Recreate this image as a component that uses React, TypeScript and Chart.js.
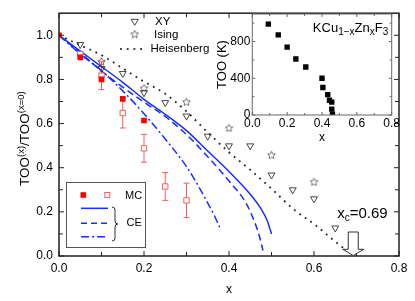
import React, { useEffect, useRef } from 'react';
import { Chart, registerables } from 'chart.js';

Chart.register(...registerables);

const FONT = "'Liberation Sans', Arial, Helvetica, sans-serif";

// ---------- main axes ----------
const xTickValues = [0, 0.2, 0.4, 0.6, 0.8];
const xMinorValues = [0.1, 0.3, 0.5, 0.7];
const yTickValues = [0, 0.2, 0.4, 0.6, 0.8, 1.0];
const yMinorValues = [0.1, 0.3, 0.5, 0.7, 0.9];

// ---------- MC (filled squares) ----------
const mcFilledX = [0, 0.05, 0.1, 0.15, 0.2];
const mcFilledY = [1.0, 0.9, 0.8, 0.712, 0.614];

// ---------- MC (open squares with error bars) ----------
const mcOpenX = [0.05, 0.1, 0.15, 0.2, 0.25, 0.3];
const mcOpenY = [0.915, 0.817, 0.648, 0.488, 0.315, 0.252];
const mcOpenErr = [0.012, 0.063, 0.068, 0.063, 0.063, 0.078];

// ---------- XY (open down triangles) ----------
const xyX = [0.05, 0.1, 0.15, 0.2, 0.25, 0.3, 0.35, 0.4, 0.45, 0.5, 0.55, 0.6, 0.65];
const xyY = [0.958, 0.849, 0.827, 0.74, 0.695, 0.634, 0.543, 0.499, 0.499, 0.367, 0.3, 0.259, 0.127];

// ---------- Ising (stars) ----------
const isingX = [0.1, 0.2, 0.3, 0.4, 0.5, 0.6];
const isingY = [0.882, 0.761, 0.698, 0.58, 0.458, 0.336];

// ---------- Heisenberg (dotted) ----------
const heisX = [0, 0.05, 0.1, 0.15, 0.2, 0.25, 0.3, 0.35, 0.4, 0.45, 0.5, 0.55, 0.6, 0.65, 0.68];
const heisY = [1.0, 0.955, 0.91, 0.85, 0.79, 0.735, 0.655, 0.56, 0.47, 0.39, 0.305, 0.215, 0.145, 0.065, 0.02];

// ---------- CE curves ----------
const ceSolidX = [0, 0.05, 0.1, 0.15, 0.2, 0.25, 0.3, 0.35, 0.4, 0.45, 0.475, 0.49, 0.5];
const ceSolidY = [1.0, 0.928, 0.858, 0.787, 0.71, 0.642, 0.568, 0.476, 0.383, 0.28, 0.215, 0.16, 0.1];
const ceDashX = [0, 0.05, 0.1, 0.15, 0.2, 0.25, 0.3, 0.35, 0.4, 0.44, 0.46, 0.47, 0.48];
const ceDashY = [1.0, 0.92, 0.838, 0.765, 0.697, 0.632, 0.55, 0.45, 0.34, 0.24, 0.155, 0.1, 0.025];
const ceDashDotX = [0, 0.05, 0.1, 0.15, 0.2, 0.25, 0.3, 0.33, 0.35, 0.365, 0.378];
const ceDashDotY = [1.0, 0.915, 0.84, 0.748, 0.645, 0.53, 0.405, 0.31, 0.24, 0.185, 0.13];

// critical concentration
const xcValue = 0.69;
const xcLabel = '=0.69';

// ---------- inset: KCu1-xZnxF3 ----------
const insetX = [0.092, 0.149, 0.2, 0.25, 0.307, 0.4, 0.405, 0.433, 0.443, 0.456, 0.456, 0.46];
const insetT = [990, 872, 739, 610, 523, 400, 300, 222, 160, 140, 64, 10];
const insetXTicks = [0, 0.2, 0.4, 0.6, 0.8];
const insetXMinor = [0.1, 0.3, 0.5, 0.7];
const insetYTicks = [0, 400, 800];
const insetYMinor = [200, 600, 1000];

const RED = 'rgb(255,0,0)';
const PINK = 'rgb(240,95,95)';
const BLUE = 'rgb(25,45,255)';
const GRAY = '#333';

const pts = (xs: number[], ys: number[]) => xs.map((x, i) => ({ x, y: ys[i] }));

type Seg = { t: string; size: number; dy?: number };
function richWidth(ctx: CanvasRenderingContext2D, segs: Seg[]) {
  let w = 0;
  for (const s of segs) {
    ctx.font = `${s.size}px ${FONT}`;
    w += ctx.measureText(s.t).width;
  }
  return w;
}
function drawRich(ctx: CanvasRenderingContext2D, segs: Seg[], x: number, y: number) {
  let cx = x;
  ctx.textAlign = 'left';
  ctx.textBaseline = 'alphabetic';
  for (const s of segs) {
    ctx.font = `${s.size}px ${FONT}`;
    ctx.fillText(s.t, cx, y + (s.dy || 0));
    cx += ctx.measureText(s.t).width;
  }
}

function makeStar(size: number, color: string) {
  const c = document.createElement('canvas');
  c.width = size;
  c.height = size;
  const g = c.getContext('2d')!;
  const cx = size / 2, cy = size / 2 + 0.4;
  const R = size / 2 - 0.5, r = R * 0.5;
  g.beginPath();
  for (let i = 0; i < 10; i++) {
    const a = -Math.PI / 2 + (i * Math.PI) / 5;
    const rad = i % 2 === 0 ? R : r;
    g.lineTo(cx + rad * Math.cos(a), cy + rad * Math.sin(a));
  }
  g.closePath();
  g.strokeStyle = color;
  g.lineWidth = 0.75;
  g.stroke();
  return c;
}

function drawInsideTicks(ctx: CanvasRenderingContext2D, chart: any, xs: number[], ys: number[], len: number) {
  const { left, right, top, bottom } = chart.chartArea;
  const sx = chart.scales.x, sy = chart.scales.y;
  ctx.beginPath();
  for (const v of xs) {
    const p = sx.getPixelForValue(v);
    ctx.moveTo(p, bottom); ctx.lineTo(p, bottom - len);
    ctx.moveTo(p, top); ctx.lineTo(p, top + len);
  }
  for (const v of ys) {
    const p = sy.getPixelForValue(v);
    ctx.moveTo(left, p); ctx.lineTo(left + len, p);
    ctx.moveTo(right, p); ctx.lineTo(right - len, p);
  }
  ctx.stroke();
}

export default function App() {
  const mainRef = useRef<HTMLCanvasElement>(null);
  const insetRef = useRef<HTMLCanvasElement>(null);

  useEffect(() => {
    document.body.style.margin = '0';
    Chart.defaults.font.family = FONT;
    const star = makeStar(9, '#444');

    const mainPlugin = {
      id: 'mainDecor',
      beforeDatasetsDraw(chart: any) {
        const ctx = chart.ctx as CanvasRenderingContext2D;
        const sx = chart.scales.x, sy = chart.scales.y;
        ctx.save();
        ctx.strokeStyle = PINK;
        ctx.lineWidth = 1;
        mcOpenX.forEach((xv, i) => {
          const px = sx.getPixelForValue(xv);
          const y1 = sy.getPixelForValue(mcOpenY[i] - mcOpenErr[i]);
          const y2 = sy.getPixelForValue(mcOpenY[i] + mcOpenErr[i]);
          ctx.beginPath();
          ctx.moveTo(px, y1); ctx.lineTo(px, y2);
          ctx.moveTo(px - 3, y1); ctx.lineTo(px + 3, y1);
          ctx.moveTo(px - 3, y2); ctx.lineTo(px + 3, y2);
          ctx.stroke();
        });
        ctx.restore();
      },
      afterDraw(chart: any) {
        const ctx = chart.ctx as CanvasRenderingContext2D;
        const { left, right, top, bottom } = chart.chartArea;
        const sx = chart.scales.x, sy = chart.scales.y;
        ctx.save();
        // frame
        ctx.strokeStyle = '#222';
        ctx.lineWidth = 1.5;
        ctx.strokeRect(left, top, right - left, bottom - top);
        ctx.lineWidth = 1;
        drawInsideTicks(ctx, chart, xTickValues, yTickValues, 5);
        drawInsideTicks(ctx, chart, xMinorValues, yMinorValues, 4);

        // axis titles
        ctx.fillStyle = '#000';
        ctx.font = `12px ${FONT}`;
        ctx.textAlign = 'center';
        ctx.textBaseline = 'middle';
        ctx.fillText('x', (left + right) / 2, 290);

        const ySegs: Seg[] = [
          { t: 'TOO', size: 13.5 },
          { t: '(x)', size: 9.5, dy: -5 },
          { t: '/', size: 13.5 },
          { t: 'TOO', size: 13.5 },
          { t: '(x=0)', size: 9.5, dy: -5 },
        ];
        ctx.save();
        ctx.translate(28.5, (top + bottom) / 2 + 4);
        ctx.rotate(-Math.PI / 2);
        const yw = richWidth(ctx, ySegs);
        drawRich(ctx, ySegs, -yw / 2, 0);
        ctx.restore();

        // top legend
        ctx.strokeStyle = GRAY;
        ctx.lineWidth = 0.9;
        const lx = 134.7;
        ctx.beginPath();
        ctx.moveTo(lx - 3.6, 19.3); ctx.lineTo(lx + 3.6, 19.3); ctx.lineTo(lx, 25.3); ctx.closePath();
        ctx.stroke();
        ctx.drawImage(star, lx - 4.5, 34 - 4.5);
        ctx.fillStyle = '#222';
        for (let i = 0; i < 4; i++) ctx.fillRect(121 + i * 6.7 - 0.9, 49 - 0.9, 1.8, 1.8);
        ctx.fillStyle = '#000';
        ctx.font = `11.5px ${FONT}`;
        ctx.textAlign = 'left';
        ctx.textBaseline = 'middle';
        ctx.fillText('XY', 155, 22);
        ctx.fillText('Ising', 154, 35);
        ctx.fillText('Heisenberg', 150.5, 49);

        // bottom-left legend box
        ctx.strokeStyle = '#555';
        ctx.lineWidth = 1;
        ctx.strokeRect(66.5, 182.5, 79, 65);
        ctx.fillStyle = RED;
        ctx.fillRect(83.3 - 2.8, 195 - 2.8, 5.6, 5.6);
        ctx.strokeStyle = PINK;
        ctx.strokeRect(107.3 - 2.5, 195 - 2.5, 5, 5);
        ctx.strokeStyle = BLUE;
        ctx.lineWidth = 1.5;
        const legLine = (y: number, dash: number[]) => {
          ctx.setLineDash(dash);
          ctx.beginPath(); ctx.moveTo(81, y); ctx.lineTo(108, y); ctx.stroke();
        };
        legLine(208.3, []);
        legLine(223.3, [6, 4]);
        legLine(236.7, [8, 3, 2, 3]);
        ctx.setLineDash([]);
        // brace
        ctx.strokeStyle = GRAY;
        ctx.lineWidth = 1;
        const bx = 112, by0 = 207, by1 = 241, bym = (by0 + by1) / 2;
        ctx.beginPath();
        ctx.moveTo(bx, by0);
        ctx.quadraticCurveTo(bx + 3, by0, bx + 3, by0 + 3);
        ctx.lineTo(bx + 3, bym - 3);
        ctx.quadraticCurveTo(bx + 3, bym, bx + 6, bym);
        ctx.quadraticCurveTo(bx + 3, bym, bx + 3, bym + 3);
        ctx.lineTo(bx + 3, by1 - 3);
        ctx.quadraticCurveTo(bx + 3, by1, bx, by1);
        ctx.stroke();
        ctx.fillStyle = '#000';
        ctx.font = `11px ${FONT}`;
        ctx.textAlign = 'left';
        ctx.textBaseline = 'middle';
        ctx.fillText('MC', 125, 195.5);
        ctx.fillText('CE', 126.5, 223);

        // critical arrow
        const ax = sx.getPixelForValue(xcValue) + 1;
        const ay = sy.getPixelForValue(0);
        ctx.beginPath();
        ctx.moveTo(ax - 5, 232);
        ctx.lineTo(ax + 5, 232);
        ctx.lineTo(ax + 5, 249.3);
        ctx.lineTo(ax + 10.5, 249.3);
        ctx.lineTo(ax, ay - 0.5);
        ctx.lineTo(ax - 10.5, 249.3);
        ctx.lineTo(ax - 5, 249.3);
        ctx.closePath();
        ctx.fillStyle = '#fff';
        ctx.fill();
        ctx.strokeStyle = '#333';
        ctx.lineWidth = 1;
        ctx.stroke();
        ctx.fillStyle = '#000';
        drawRich(ctx, [
          { t: 'x', size: 15 },
          { t: 'c', size: 10, dy: 3 },
          { t: xcLabel, size: 15 },
        ], ax - 16, 217.5);
        ctx.restore();
      },
    };

    const main = new Chart(mainRef.current!, {
      type: 'scatter',
      data: {
        datasets: [
          {
            data: pts(mcFilledX, mcFilledY),
            pointStyle: 'rect', pointRadius: 4, backgroundColor: RED, borderColor: RED, borderWidth: 0,
          },
          {
            data: pts(mcOpenX, mcOpenY),
            pointStyle: 'rect', pointRadius: 3.8, backgroundColor: '#fff', borderColor: PINK, borderWidth: 1,
          },
          {
            data: pts(xyX, xyY),
            pointStyle: 'triangle', pointRotation: 180, pointRadius: 4, backgroundColor: 'rgba(0,0,0,0)', borderColor: GRAY, borderWidth: 0.9,
          },
          {
            data: pts(isingX, isingY),
            pointStyle: star as any, pointRadius: 4.5,
          },
          {
            data: pts(ceSolidX, ceSolidY), showLine: true, pointRadius: 0,
            borderColor: BLUE, borderWidth: 1.5, cubicInterpolationMode: 'monotone',
          },
          {
            data: pts(ceDashX, ceDashY), showLine: true, pointRadius: 0,
            borderColor: BLUE, borderWidth: 1.5, borderDash: [7, 4], cubicInterpolationMode: 'monotone',
          },
          {
            data: pts(ceDashDotX, ceDashDotY), showLine: true, pointRadius: 0,
            borderColor: BLUE, borderWidth: 1.5, borderDash: [8, 3, 2, 3], cubicInterpolationMode: 'monotone',
          },
          {
            data: pts(heisX, heisY), showLine: true, pointRadius: 0,
            borderColor: '#222', borderWidth: 1.8, borderDash: [1.8, 4.9], cubicInterpolationMode: 'monotone',
          },
        ] as any,
      },
      options: {
        responsive: false,
        animation: false,
        devicePixelRatio: 1,
        events: [],
        layout: { padding: { left: 0, right: 16, top: 6, bottom: 0 } },
        plugins: { legend: { display: false }, tooltip: { enabled: false } },
        scales: {
          x: {
            type: 'linear', min: 0, max: 0.8,
            afterFit: (s: any) => { s.height = 45; },
            afterBuildTicks: (s: any) => { s.ticks = xTickValues.map((v) => ({ value: v })); },
            ticks: {
              callback: (v: any) => Number(v).toFixed(1),
              font: { size: 12, family: FONT }, color: '#000', padding: 5, maxRotation: 0, autoSkip: false,
            },
            grid: { display: false, drawTicks: false, tickLength: 0 },
            border: { display: false },
          },
          y: {
            type: 'linear', min: 0, max: 1.1,
            afterFit: (s: any) => { s.width = 59; },
            afterBuildTicks: (s: any) => { s.ticks = yTickValues.map((v) => ({ value: v })); },
            ticks: {
              callback: (v: any) => Number(v).toFixed(1),
              font: { size: 12, family: FONT }, color: '#000', padding: 6, autoSkip: false,
            },
            grid: { display: false, drawTicks: false, tickLength: 0 },
            border: { display: false },
          },
        },
      } as any,
      plugins: [mainPlugin],
    });

    const insetPlugin = {
      id: 'insetDecor',
      beforeDraw(chart: any) {
        const ctx = chart.ctx as CanvasRenderingContext2D;
        const { left, right, top, bottom } = chart.chartArea;
        ctx.save();
        ctx.fillStyle = '#fff';
        ctx.fillRect(left, top, right - left, bottom - top);
        ctx.restore();
      },
      afterDraw(chart: any) {
        const ctx = chart.ctx as CanvasRenderingContext2D;
        const { left, right, top, bottom } = chart.chartArea;
        ctx.save();
        ctx.strokeStyle = '#666';
        ctx.lineWidth = 1;
        ctx.strokeRect(left, top, right - left, bottom - top);
        drawInsideTicks(ctx, chart, insetXTicks, insetYTicks, 3);
        drawInsideTicks(ctx, chart, insetXMinor, insetYMinor, 2);
        ctx.fillStyle = '#000';
        // compound label
        const segs: Seg[] = [
          { t: 'KCu', size: 13 },
          { t: '1\u2212x', size: 10, dy: 3 },
          { t: 'Zn', size: 13 },
          { t: 'x', size: 10, dy: 3 },
          { t: 'F', size: 13 },
          { t: '3', size: 10, dy: 3 },
        ];
        const w = richWidth(ctx, segs);
        drawRich(ctx, segs, right - 3.5 - w, top + 18);
        // axis titles
        ctx.font = `12px ${FONT}`;
        ctx.textAlign = 'center';
        ctx.textBaseline = 'middle';
        ctx.fillText('x', (left + right) / 2, 138);
        ctx.save();
        ctx.translate(31, (top + bottom) / 2);
        ctx.rotate(-Math.PI / 2);
        ctx.font = `13px ${FONT}`;
        ctx.textBaseline = 'alphabetic';
        ctx.fillText('TOO (K)', 0, 0);
        ctx.restore();
        ctx.restore();
      },
    };

    const inset = new Chart(insetRef.current!, {
      type: 'scatter',
      data: {
        datasets: [
          {
            data: pts(insetX, insetT),
            pointStyle: 'rect', pointRadius: 3.8, backgroundColor: '#000', borderColor: '#000', borderWidth: 0,
          },
        ] as any,
      },
      options: {
        responsive: false,
        animation: false,
        devicePixelRatio: 1,
        events: [],
        layout: { padding: { left: 0, right: 13.3, top: 14, bottom: 0 } },
        plugins: { legend: { display: false }, tooltip: { enabled: false } },
        scales: {
          x: {
            type: 'linear', min: 0, max: 0.8,
            afterFit: (s: any) => { s.height = 35; },
            afterBuildTicks: (s: any) => { s.ticks = insetXTicks.map((v) => ({ value: v })); },
            ticks: {
              callback: (v: any) => Number(v).toFixed(1),
              font: { size: 12, family: FONT }, color: '#000', padding: 1, maxRotation: 0, autoSkip: false,
            },
            grid: { display: false, drawTicks: false, tickLength: 0 },
            border: { display: false },
          },
          y: {
            type: 'linear', min: 0, max: 1100,
            afterFit: (s: any) => { s.width = 57.3; },
            afterBuildTicks: (s: any) => { s.ticks = insetYTicks.map((v) => ({ value: v })); },
            ticks: {
              callback: (v: any) => String(v),
              font: { size: 12, family: FONT }, color: '#000', padding: 2, autoSkip: false,
            },
            grid: { display: false, drawTicks: false, tickLength: 0 },
            border: { display: false },
          },
        },
      } as any,
      plugins: [insetPlugin],
    });

    return () => {
      main.destroy();
      inset.destroy();
    };
  }, []);

  return (
    <div style={{ position: 'relative', width: 415, height: 301 }}>
      <canvas ref={mainRef} width={415} height={301} style={{ position: 'absolute', left: 0, top: 0 }} />
      <canvas ref={insetRef} width={210} height={150} style={{ position: 'absolute', left: 195, top: 0 }} />
    </div>
  );
}
